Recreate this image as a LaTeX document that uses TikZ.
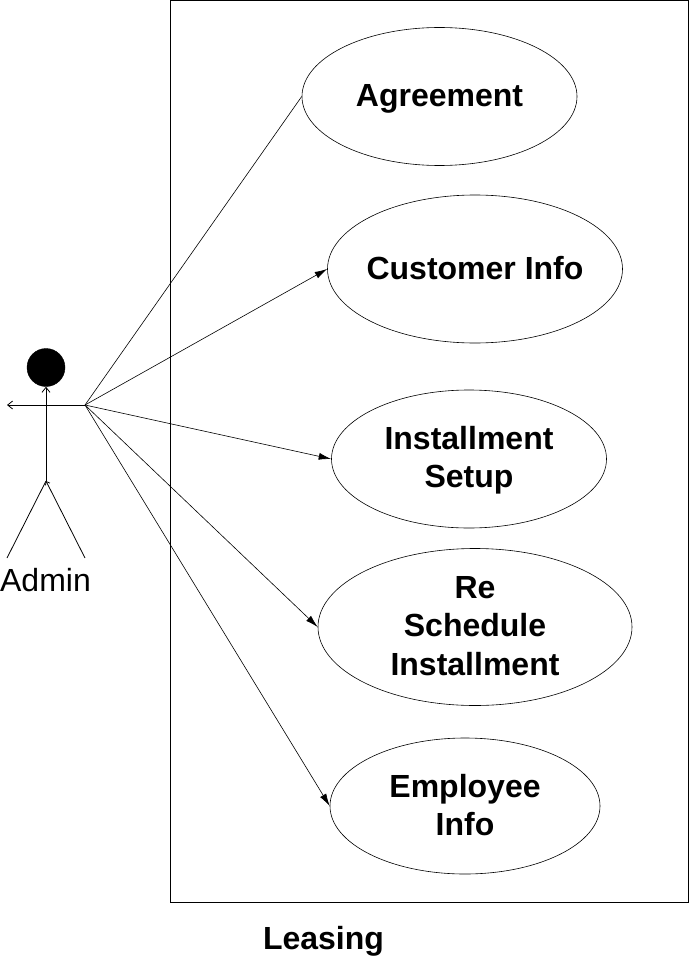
\documentclass[tikz,border=0pt]{standalone}
\usepackage{fontspec}
\setmainfont{Liberation Sans}
\usetikzlibrary{shapes.geometric,arrows.meta}
\tikzset{
  usecase/.style={draw=black,line width=0.6pt,ellipse,inner sep=0pt},
  uctext/.style={inner sep=0pt,align=center,font=\fontsize{32}{38.5}\selectfont\bfseries},
  assoc/.style={line width=0.6pt,-{Latex[length=12.5pt,width=7pt]}},
  lineonly/.style={line width=0.8pt},
  barb/.style={line width=0.8pt,-{Straight Barb[length=5pt,width=8pt]}},
  smallbarb/.style={line width=0.8pt,-{Straight Barb[length=3pt,width=5pt]}},
  lab/.style={inner sep=0pt,font=\fontsize{32}{38}\selectfont}
}
\begin{document}
\begin{tikzpicture}[x=1pt,y=-1pt]
\useasboundingbox (0,0) rectangle (689,960);
\fill[white] (0,0) rectangle (689,960);
\node[draw=black,line width=0.6pt,minimum width=518pt,minimum height=901.5pt,inner sep=0pt,anchor=north west] (sys) at (170,0.5) {};
\node[usecase,minimum width=275pt,minimum height=138pt,label={[uctext,yshift=-2pt]center:Agreement}] (a) at (439.5,96.5) {};
\node[usecase,minimum width=295pt,minimum height=148pt,label={[uctext,yshift=1pt]center:Customer Info}] (b) at (475,269) {};
\node[usecase,minimum width=275pt,minimum height=138pt,label={[uctext,yshift=-1pt]center:Installment\\Setup}] (c) at (469,459) {};
\node[usecase,minimum width=314pt,minimum height=157pt,label={[uctext,yshift=1pt]center:Re\\Schedule\\Installment}] (d) at (475,627) {};
\node[usecase,minimum width=270pt,minimum height=136pt,label={[uctext,yshift=1pt]center:Employee\\Info}] (e) at (465,806) {};
\node[lab,font=\fontsize{32}{38}\selectfont\bfseries] (t) at (323.5,941) {Leasing};
\node[draw=black,fill=black,circle,minimum size=38pt,inner sep=0pt] (head) at (46,367.5) {};
\coordinate (neck) at (46,405);
\coordinate (hand) at (85,405);
\coordinate (lh) at (7,405);
\coordinate (hip) at (46,481);
\coordinate (lf) at (7,558);
\coordinate (rf) at (85,558);
\node[lab] (adm) at (45.5,580) {Admin};
\draw[barb] (hip) -- (head);
\draw[barb] (hand) -- (lh);
\draw[lineonly] (lf) -- (hip);
\draw[smallbarb] (rf) -- (hip);
\draw[line width=0.6pt] (hand) -- (a.west);
\draw[assoc] (hand) -- (b.west);
\draw[assoc] (hand) -- (c.west);
\draw[assoc] (hand) -- (d.west);
\draw[assoc] (hand) -- (e.west);
\end{tikzpicture}
\end{document}
